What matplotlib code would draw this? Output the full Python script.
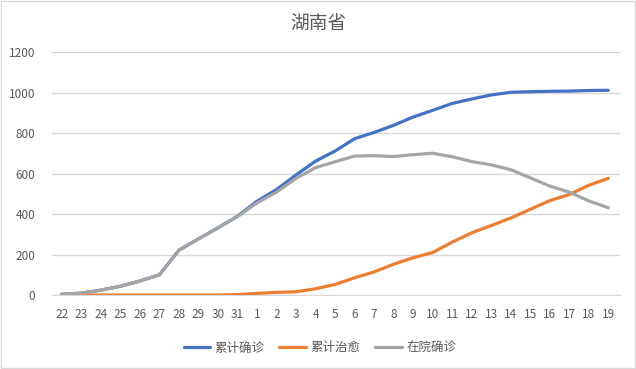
import matplotlib
matplotlib.use("Agg")
import matplotlib.pyplot as plt
from matplotlib.patches import Rectangle

plt.rcParams['font.family'] = ['Noto Sans CJK SC', 'DejaVu Sans']

dates = ['22', '23', '24', '25', '26', '27', '28', '29', '30', '31',
         '1', '2', '3', '4', '5', '6', '7', '8', '9', '10',
         '11', '12', '13', '14', '15', '16', '17', '18', '19']
confirmed = [4, 9, 24, 43, 69, 100, 221, 277, 332, 389,
             463, 521, 593, 661, 711, 772, 803, 838, 879, 912,
             946, 968, 988, 1001, 1004, 1006, 1007, 1010, 1011]
cured = [0, 0, 0, 0, 0, 0, 0, 0, 0, 2,
         8, 13, 16, 31, 52, 85, 114, 152, 184, 210,
         261, 307, 343, 380, 423, 466, 496, 542, 576]
hospital = [4, 9, 24, 43, 69, 100, 221, 277, 332, 387,
            455, 508, 576, 629, 658, 686, 688, 684, 693, 700,
            683, 659, 643, 619, 579, 538, 508, 465, 431]
names = ['累计确诊', '累计治愈', '在院确诊']
yticks = [0, 200, 400, 600, 800, 1000, 1200]

fig = plt.figure(figsize=(6.36, 3.69), dpi=100)
fig.patches.append(Rectangle((0.0015, 0.0025), 0.997, 0.995, transform=fig.transFigure,
                             fill=False, edgecolor='#D9D9D9', linewidth=1))
ax = fig.add_axes([0.0818, 0.2005, 0.893, 0.6585])

x = list(range(len(dates)))
ax.plot(x, confirmed, color='#4472C4', lw=2.3, label=names[0], solid_capstyle='round')
ax.plot(x, cured, color='#ED7D31', lw=2.3, label=names[1], solid_capstyle='round')
ax.plot(x, hospital, color='#A5A5A5', lw=2.3, label=names[2], solid_capstyle='round')

ax.set_xlim(-0.5, 28.6)
ax.set_ylim(0, 1200)
ax.set_yticks(yticks)
ax.set_xticks(x)
ax.set_xticklabels(dates)
ax.yaxis.grid(True, color='#D9D9D9', lw=1)
ax.set_axisbelow(True)
for s in ['top', 'right', 'left']:
    ax.spines[s].set_visible(False)
ax.spines['bottom'].set_color('#D9D9D9')
ax.tick_params(axis='both', length=0, colors='#595959', labelsize=8.5)
ax.tick_params(axis='x', pad=9)
ax.tick_params(axis='y', pad=12)

fig.text(0.5, 0.937, '湖南省', ha='center', va='center', fontsize=13.5, color='#595959')
leg = fig.legend(loc='center', bbox_to_anchor=(0.503, 0.057), ncol=3, frameon=False,
                 fontsize=9, handlelength=2.15, columnspacing=1.2, handletextpad=0.32)
for t in leg.get_texts():
    t.set_color('#595959')

fig.savefig('out.png', dpi=100)
